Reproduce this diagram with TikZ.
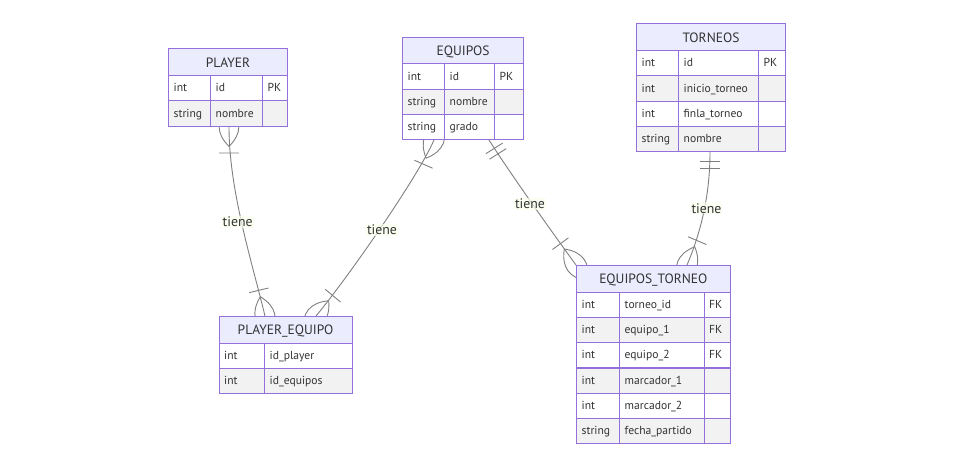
\documentclass[tikz,border=0pt]{standalone}
\usepackage{fontspec}
\setmainfont{PT Sans}
\usetikzlibrary{decorations.markings,calc}

\definecolor{erborder}{HTML}{9370DB}
\definecolor{erheadfill}{HTML}{ECECFF}
\definecolor{errowb}{HTML}{F2F2F2}
\definecolor{erline}{HTML}{808080}
\definecolor{ertext}{HTML}{333333}
\definecolor{erlabel}{RGB}{249,255,236}

\pgfdeclarelayer{background}
\pgfsetlayers{background,main}

% crow's foot "one or more" and "exactly one" end symbols, drawn along the path
\newcommand\manymark{\draw[markline] (-19.8,0) .. controls (-6.6,-13.2) and (6.6,-13.2) .. (19.8,0)
   .. controls (6.6,13.2) and (-6.6,13.2) .. cycle (26.4,-9.9) -- (26.4,9.9);}
\newcommand\onemark{\draw[markline] (9.9,-9.9) -- (9.9,9.9) (16.5,-9.9) -- (16.5,9.9);}

\tikzset{
  cellbox/.style={draw=erborder, line width=1.1pt, minimum height=25.2pt, inner sep=0pt, anchor=north west},
  headbox/.style={draw=erborder, fill=erheadfill, line width=1.1pt, minimum height=26.8pt, inner sep=0pt,
    anchor=north west, text=ertext, text height=9.5pt, text depth=0pt, font=\fontsize{13.5}{16}\selectfont},
  celltext/.style={anchor=base west, inner sep=0pt, text=ertext, font=\fontsize{11.6}{14}\selectfont},
  relline/.style={draw=erline, line width=0.9pt},
  markline/.style={draw=erline, line width=0.9pt},
  rellabel/.style={fill=erlabel, fill opacity=0.7, text opacity=1, text=ertext, inner sep=1pt,
    font=\fontsize{13.8}{16}\selectfont},
  many start/.style={postaction={decorate, decoration={markings, mark=at position 0 with {\manymark}}}},
  many end/.style={postaction={decorate, decoration={markings,
    mark=at position 0.9999 with {\begin{scope}[xscale=-1]\manymark\end{scope}}}}},
  one start/.style={postaction={decorate, decoration={markings, mark=at position 0 with {\onemark}}}},
}

% one attribute cell: name, x, y, width, fill, text
\newcommand\ercell[6]{%
  \node[cellbox, fill=#5, minimum width=#4pt] (#1) at (#2,#3) {};
  \node[celltext] (#1-t) at ([xshift=5.5pt,yshift=-3.6pt]#1.west) {#6};}

\begin{document}
\begin{tikzpicture}[x=1pt,y=-1pt]
\useasboundingbox (0,0) rectangle (953,467);

% PLAYER
\node[headbox, minimum width=119pt] (PLAYER) at (168,48.3) {PLAYER};
\ercell{PLAYER-1a}{168}{75.1}{42}{white}{int}
\ercell{PLAYER-1b}{210}{75.1}{52}{white}{id}
\ercell{PLAYER-1c}{262}{75.1}{25}{white}{PK}
\ercell{PLAYER-2a}{168}{100.3}{42}{errowb}{string}
\ercell{PLAYER-2b}{210}{100.3}{52}{errowb}{nombre}
\ercell{PLAYER-2c}{262}{100.3}{25}{errowb}{}

% EQUIPOS
\node[headbox, minimum width=121pt] (EQUIPOS) at (402,36.5) {EQUIPOS};
\ercell{EQUIPOS-1a}{402}{63.3}{42}{white}{int}
\ercell{EQUIPOS-1b}{444}{63.3}{50}{white}{id}
\ercell{EQUIPOS-1c}{494}{63.3}{29}{white}{PK}
\ercell{EQUIPOS-2a}{402}{88.5}{42}{errowb}{string}
\ercell{EQUIPOS-2b}{444}{88.5}{50}{errowb}{nombre}
\ercell{EQUIPOS-2c}{494}{88.5}{29}{errowb}{}
\ercell{EQUIPOS-3a}{402}{113.7}{42}{white}{string}
\ercell{EQUIPOS-3b}{444}{113.7}{50}{white}{grado}
\ercell{EQUIPOS-3c}{494}{113.7}{29}{white}{}

% TORNEOS
\node[headbox, minimum width=149pt] (TORNEOS) at (636,23.3) {TORNEOS};
\ercell{TORNEOS-1a}{636}{50.1}{42}{white}{int}
\ercell{TORNEOS-1b}{678}{50.1}{80}{white}{id}
\ercell{TORNEOS-1c}{758}{50.1}{27}{white}{PK}
\ercell{TORNEOS-2a}{636}{75.3}{42}{errowb}{int}
\ercell{TORNEOS-2b}{678}{75.3}{80}{errowb}{inicio\_torneo}
\ercell{TORNEOS-2c}{758}{75.3}{27}{errowb}{}
\ercell{TORNEOS-3a}{636}{100.5}{42}{white}{int}
\ercell{TORNEOS-3b}{678}{100.5}{80}{white}{finla\_torneo}
\ercell{TORNEOS-3c}{758}{100.5}{27}{white}{}
\ercell{TORNEOS-4a}{636}{125.7}{42}{errowb}{string}
\ercell{TORNEOS-4b}{678}{125.7}{80}{errowb}{nombre}
\ercell{TORNEOS-4c}{758}{125.7}{27}{errowb}{}

% PLAYER_EQUIPO
\node[headbox, minimum width=133pt] (PEQ) at (218.5,316) {PLAYER\_EQUIPO};
\ercell{PEQ-1a}{218.5}{342.8}{45.5}{white}{int}
\ercell{PEQ-1b}{264}{342.8}{87.5}{white}{id\_player}
\ercell{PEQ-2a}{218.5}{368}{45.5}{errowb}{int}
\ercell{PEQ-2b}{264}{368}{87.5}{errowb}{id\_equipos}

% EQUIPOS_TORNEO
\node[headbox, minimum width=153.5pt] (ET) at (576,265) {EQUIPOS\_TORNEO};
\ercell{ET-1a}{576}{291.8}{43}{white}{int}
\ercell{ET-1b}{619}{291.8}{84.5}{white}{torneo\_id}
\ercell{ET-1c}{703.5}{291.8}{26}{white}{FK}
\ercell{ET-2a}{576}{317}{43}{errowb}{int}
\ercell{ET-2b}{619}{317}{84.5}{errowb}{equipo\_1}
\ercell{ET-2c}{703.5}{317}{26}{errowb}{FK}
\ercell{ET-3a}{576}{342.2}{43}{white}{int}
\ercell{ET-3b}{619}{342.2}{84.5}{white}{equipo\_2}
\ercell{ET-3c}{703.5}{342.2}{26}{white}{FK}
\ercell{ET-4a}{576}{367.4}{43}{errowb}{int}
\ercell{ET-4b}{619}{367.4}{84.5}{errowb}{marcador\_1}
\ercell{ET-4c}{703.5}{367.4}{26}{errowb}{}
\ercell{ET-5a}{576}{392.6}{43}{white}{int}
\ercell{ET-5b}{619}{392.6}{84.5}{white}{marcador\_2}
\ercell{ET-5c}{703.5}{392.6}{26}{white}{}
\ercell{ET-6a}{576}{417.8}{43}{errowb}{string}
\ercell{ET-6b}{619}{417.8}{84.5}{errowb}{fecha\_partido}
\ercell{ET-6c}{703.5}{417.8}{26}{errowb}{}

% relationships, behind the tables
\begin{pgfonlayer}{background}
\fill[white] (0,0) rectangle (953,467);
\draw[relline, many start, many end] ([xshift=61pt]PLAYER-2a.south west)
  .. controls +(0,64) and +(-13,-54) .. ([xshift=46.5pt]PEQ.north west);
\draw[relline, many start, many end] ([xshift=32pt]EQUIPOS-3a.south west)
  .. controls +(-16,36.8) and +(32,-38.5) .. ([xshift=97.5pt]PEQ.north west);
\draw[relline, one start, many end] ([xshift=87pt]EQUIPOS-3a.south west)
  .. controls +(19,30) and +(-27,-37) .. (ET.north west);
\draw[relline, one start, many end] ([xshift=74pt]TORNEOS-4a.south west)
  .. controls +(0,39) and +(15.6,-36.8) .. ([xshift=111pt]ET.north west);
\end{pgfonlayer}

% relationship labels
\node[rellabel] (lab1) at (237.6,222) {tiene};
\node[rellabel] (lab2) at (382,230) {tiene};
\node[rellabel] (lab3) at (530,204) {tiene};
\node[rellabel] (lab4) at (706.5,208.3) {tiene};
\end{tikzpicture}
\end{document}
